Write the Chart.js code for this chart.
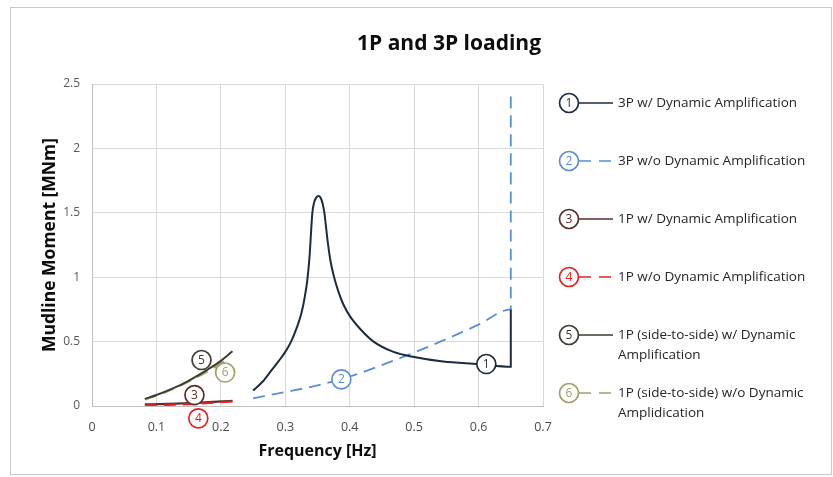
<!DOCTYPE html>
<html>
<head>
<meta charset="utf-8">
<script src="https://cdn.jsdelivr.net/npm/chart.js@4.4.1/dist/chart.umd.min.js"></script>
<style>
  html, body { margin: 0; padding: 0; background: #fff; }
  #wrap { position: relative; width: 833px; height: 477px; }
</style>
</head>
<body>
<div id="wrap"><canvas id="loadChart"></canvas></div>
<script>
const chartTitle = '1P and 3P loading';
const xTicks = [0, 0.1, 0.2, 0.3, 0.4, 0.5, 0.6, 0.7];
const yTicks = [0, 0.5, 1, 1.5, 2, 2.5];

// 1: 3P w/ dynamic amplification
const freq3PDyn = [0.25, 0.265, 0.279, 0.29, 0.30, 0.309, 0.318, 0.325, 0.330, 0.334, 0.3375, 0.340, 0.342, 0.3445, 0.348, 0.3515, 0.355, 0.358, 0.3607, 0.363, 0.366, 0.370, 0.3758, 0.383, 0.39, 0.40, 0.416, 0.437, 0.468, 0.50, 0.545, 0.60, 0.65, 0.65];
const mom3PDyn  = [0.12, 0.19, 0.28, 0.35, 0.42, 0.50, 0.61, 0.72, 0.84, 0.97, 1.15, 1.35, 1.50, 1.575, 1.618, 1.63, 1.615, 1.57, 1.50, 1.40, 1.27, 1.13, 1.00, 0.88, 0.79, 0.70, 0.60, 0.50, 0.42, 0.38, 0.345, 0.325, 0.305, 0.75];

// 2: 3P w/o dynamic amplification
const freq3PStat = [0.25, 0.30, 0.35, 0.387, 0.42, 0.45, 0.50, 0.55, 0.60, 0.65, 0.65];
const mom3PStat  = [0.06, 0.108, 0.16, 0.21, 0.262, 0.318, 0.415, 0.52, 0.632, 0.75, 2.42];

// 3: 1P w/ dynamic amplification
const freq1PDyn = [0.082, 0.15, 0.218];
const mom1PDyn  = [0.012, 0.022, 0.04];

// 4: 1P w/o dynamic amplification
const freq1PStat = [0.082, 0.15, 0.218];
const mom1PStat  = [0.004, 0.014, 0.035];

// 5: 1P side-to-side w/ dynamic amplification
const freqSideDyn = [0.082, 0.10, 0.12, 0.14, 0.16, 0.18, 0.20, 0.218];
const momSideDyn  = [0.055, 0.085, 0.125, 0.17, 0.225, 0.285, 0.35, 0.425];

// 6: 1P side-to-side w/o dynamic amplification
const freqSideStat = [0.082, 0.10, 0.12, 0.14, 0.16, 0.18, 0.20, 0.212];
const momSideStat  = [0.05, 0.08, 0.12, 0.165, 0.215, 0.27, 0.33, 0.375];

const seriesLabels = [
    '3P w/ Dynamic Amplification',
    '3P w/o Dynamic Amplification',
    '1P w/ Dynamic Amplification',
    '1P w/o Dynamic Amplification',
    '1P (side-to-side) w/ Dynamic Amplification',
    '1P (side-to-side) w/o Dynamic Amplidication'
];

// numbered markers placed on the curves
const markerX = [0.612, 0.387, 0.159, 0.165, 0.170, 0.2066];
const markerY = [0.326, 0.207, 0.085, -0.096, 0.357, 0.26];

const colors = ['#1f2b3d', '#5b8ed6', '#5c2b2b', '#e3231f', '#3d3d33', '#a39e6c'];

const toPoints = (xs, ys) => xs.map((x, i) => ({ x, y: ys[i] }));

function lineSet(i, xs, ys, dashed, width, order) {
    return {
        label: seriesLabels[i],
        data: toPoints(xs, ys),
        borderColor: colors[i],
        borderWidth: width,
        borderDash: dashed ? [12, 7] : [],
        pointRadius: 0,
        fill: false,
        cubicInterpolationMode: 'monotone',
        order: order || 0
    };
}

function drawBadge(ctx, x, y, text, color) {
    ctx.beginPath();
    ctx.setLineDash([]);
    ctx.arc(x, y, 9.5, 0, Math.PI * 2);
    ctx.fillStyle = '#fff';
    ctx.fill();
    ctx.lineWidth = 1.7;
    ctx.strokeStyle = color;
    ctx.stroke();
    ctx.fillStyle = color;
    ctx.font = '12px "Open Sans"';
    ctx.textAlign = 'center';
    ctx.textBaseline = 'middle';
    ctx.fillText(text, x, y + 0.5);
}

function wrapText(ctx, text, maxW) {
    const words = text.split(' ');
    const lines = [];
    let cur = '';
    words.forEach(w => {
        const test = cur ? cur + ' ' + w : w;
        if (ctx.measureText(test).width > maxW && cur) {
            lines.push(cur);
            cur = w;
        } else {
            cur = test;
        }
    });
    if (cur) lines.push(cur);
    return lines;
}

const frameAndTitle = {
    id: 'frameAndTitle',
    beforeDraw(chart) {
        const ctx = chart.ctx;
        ctx.save();
        ctx.fillStyle = '#fff';
        ctx.fillRect(0, 0, chart.width, chart.height);
        ctx.strokeStyle = '#c8c8c8';
        ctx.lineWidth = 1;
        ctx.strokeRect(10.5, 7.5, 821, 467);
        ctx.fillStyle = '#0d0d0d';
        ctx.font = 'bold 21px "Open Sans"';
        ctx.textAlign = 'center';
        ctx.textBaseline = 'middle';
        ctx.fillText(chartTitle, 449, 44);
        ctx.restore();
    }
};

const markers = {
    id: 'markers',
    afterDatasetsDraw(chart) {
        const ctx = chart.ctx;
        const xs = chart.scales.x, ys = chart.scales.y;
        ctx.save();
        markerX.forEach((mx, i) => {
            drawBadge(ctx, xs.getPixelForValue(mx), ys.getPixelForValue(markerY[i]), String(i + 1), colors[i]);
        });
        ctx.restore();
    }
};

const sideLegend = {
    id: 'sideLegend',
    afterDraw(chart) {
        const ctx = chart.ctx;
        const left = 569, top = 103, step = 58;
        ctx.save();
        chart.data.datasets.forEach((ds, i) => {
            const cy = top + i * step;
            ctx.beginPath();
            ctx.setLineDash(ds.borderDash.length ? [12, 8] : []);
            ctx.strokeStyle = ds.borderColor;
            ctx.lineWidth = 1.7;
            ctx.moveTo(left + 10, cy);
            ctx.lineTo(left + 44, cy);
            ctx.stroke();
            ctx.setLineDash([]);
            drawBadge(ctx, left, cy, String(i + 1), ds.borderColor);
            ctx.fillStyle = '#262626';
            ctx.font = '13.5px "Open Sans"';
            ctx.textAlign = 'left';
            ctx.textBaseline = 'middle';
            wrapText(ctx, ds.label, 205).forEach((line, k) => {
                ctx.fillText(line, left + 49, cy + k * 20);
            });
        });
        ctx.restore();
    }
};

new Chart(document.getElementById('loadChart'), {
    type: 'line',
    data: {
        datasets: [
            lineSet(0, freq3PDyn, mom3PDyn, false, 2),
            lineSet(1, freq3PStat, mom3PStat, true, 1.8),
            lineSet(2, freq1PDyn, mom1PDyn, false, 2.2),
            lineSet(3, freq1PStat, mom1PStat, true, 2.2, -1),
            lineSet(4, freqSideDyn, momSideDyn, false, 2),
            lineSet(5, freqSideStat, momSideStat, true, 2)
        ]
    },
    options: {
        responsive: true,
        maintainAspectRatio: false,
        animation: false,
        layout: { padding: { left: 38, top: 84, right: 290, bottom: 0 } },
        plugins: {
            legend: { display: false },
            tooltip: { enabled: false }
        },
        scales: {
            x: {
                type: 'linear',
                min: 0,
                max: 0.7,
                afterBuildTicks: s => { s.ticks = xTicks.map(v => ({ value: v })); },
                afterFit: s => { s.height = 71; },
                grid: { color: '#d9d9d9', drawTicks: false },
                border: { color: '#bfbfbf' },
                ticks: { color: '#4a4a4a', font: { family: 'Open Sans', size: 12.5 }, padding: 14, maxRotation: 0, callback: v => String(v) },
                title: { display: true, text: 'Frequency [Hz]', color: '#0d0d0d', font: { family: 'Open Sans', size: 16, weight: 'bold' }, padding: { top: 0, bottom: 16 } }
            },
            y: {
                min: 0,
                max: 2.5,
                afterBuildTicks: s => { s.ticks = yTicks.map(v => ({ value: v })); },
                afterFit: s => { s.width = 54; },
                grid: { color: '#d9d9d9', drawTicks: false },
                border: { color: '#bfbfbf' },
                ticks: { color: '#595959', font: { family: 'Open Sans', size: 12 }, padding: 12, callback: v => String(v) },
                title: { display: true, text: 'Mudline Moment [MNm]', color: '#0d0d0d', font: { family: 'Open Sans', size: 17.5, weight: 'bold' }, padding: { top: 2, bottom: 0 } }
            }
        }
    },
    plugins: [frameAndTitle, markers, sideLegend]
});
</script>
</body>
</html>
